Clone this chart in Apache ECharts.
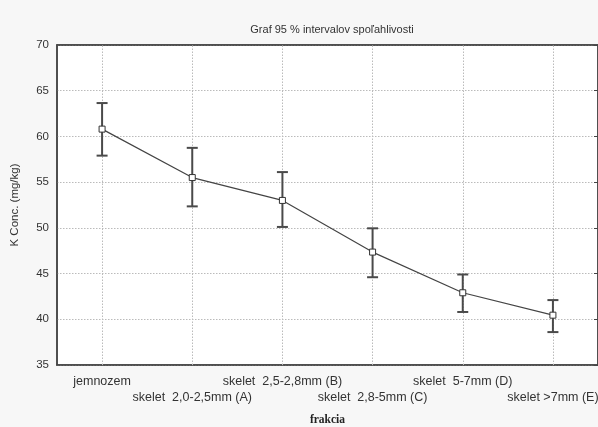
<!DOCTYPE html>
<html><head><meta charset="utf-8">
<script src="https://cdn.jsdelivr.net/npm/echarts@6/dist/echarts.min.js"></script>
<style>html,body{margin:0;padding:0;background:#f7f7f7}#c{width:598px;height:427px}</style>
</head><body><div id="c"></div>
<script>
const categories = ['jemnozem','skelet  2,0-2,5mm (A)','skelet  2,5-2,8mm (B)','skelet  2,8-5mm (C)','skelet  5-7mm (D)','skelet >7mm (E)'];
const means = [60.8, 55.5, 53.0, 47.35, 42.9, 40.45];
const upper = [63.65, 58.75, 56.1, 49.95, 44.9, 42.1];
const lower = [57.9, 52.35, 50.1, 44.6, 40.8, 38.6];
const yTicks = [35, 40, 45, 50, 55, 60, 65, 70];

const chart = echarts.init(document.getElementById('c'), null, {renderer:'canvas'});
const font = 'Liberation Sans, Arial, sans-serif';
const axisLine = {show: true, lineStyle: {color: '#444', width: 1.5}};
chart.setOption({
  backgroundColor: '#f7f7f7',
  animation: false,
  title: {text: 'Graf 95 % intervalov spoľahlivosti', left: 327, textAlign: 'center', top: 19,
    textStyle: {fontFamily: font, fontSize: 11, fontWeight: 'normal', color: '#333'}},
  grid: {left: 57, right: 0, top: 45, bottom: 62, containLabel: false, outerBoundsMode: 'none',
    show: true, backgroundColor: '#fff', borderColor: '#444', borderWidth: 1.5},
  xAxis: [{
    type: 'category', data: categories, boundaryGap: true,
    name: 'frakcia', nameLocation: 'middle', nameGap: 49,
    nameTextStyle: {fontFamily: 'Liberation Serif, serif', fontWeight: 'bold', fontSize: 11.5, color: '#222'},
    axisLine: axisLine,
    axisTick: {alignWithLabel: true, inside: true, length: 4, lineStyle: {color: '#444'}},
    axisLabel: {interval: 0, fontFamily: font, fontSize: 12.5, color: '#333', lineHeight: 15.5, margin: 9,
      hideOverlap: false, formatter: (v, i) => i % 2 ? '\n' + v : v},
    splitLine: {show: false}
  }, {
    type: 'category', data: categories, position: 'top', boundaryGap: true,
    axisLine: axisLine,
    axisTick: {alignWithLabel: true, inside: true, length: 4, lineStyle: {color: '#444'}},
    axisLabel: {show: false}
  }],
  yAxis: [{
    type: 'value', min: 35, max: 70, interval: 5,
    name: 'K Conc. (mg/kg)', nameLocation: 'middle', nameGap: 36,
    nameTextStyle: {fontFamily: font, fontSize: 11.5, color: '#333'},
    axisLine: axisLine,
    axisTick: {show: false},
    axisLabel: {fontFamily: font, fontSize: 11.5, color: '#333', margin: 8,
      formatter: v => yTicks.includes(v) ? String(v) : ''},
    splitLine: {lineStyle: {color: '#bbb', type: [1.5, 1.5], width: 1}}
  }, {
    type: 'value', min: 35, max: 70, interval: 5, position: 'right',
    axisLine: axisLine,
    axisTick: {show: true, inside: true, length: 4, lineStyle: {color: '#444'}},
    axisLabel: {show: false},
    splitLine: {show: false}
  }],
  series: [{
    type: 'line', data: [], silent: true, z: 1,
    markLine: {symbol: 'none', silent: true, z: 1, label: {show: false},
      lineStyle: {color: '#bbb', type: [1.5, 1.5], width: 1},
      data: categories.map(c => ({xAxis: c}))}
  }, {
    type: 'custom', z: 3,
    data: categories.map((c, i) => [i, lower[i], upper[i]]),
    renderItem: (params, api) => {
      const lo = api.coord([api.value(0), api.value(1)]);
      const hi = api.coord([api.value(0), api.value(2)]);
      const w = 5.5;
      const st = {stroke: '#4a4a4a', lineWidth: 2};
      return {type: 'group', children: [
        {type: 'line', shape: {x1: hi[0], y1: hi[1], x2: lo[0], y2: lo[1]}, style: st},
        {type: 'line', shape: {x1: hi[0]-w, y1: hi[1], x2: hi[0]+w, y2: hi[1]}, style: st},
        {type: 'line', shape: {x1: lo[0]-w, y1: lo[1], x2: lo[0]+w, y2: lo[1]}, style: st}
      ]};
    }
  }, {
    type: 'line', data: means, z: 4,
    symbol: 'rect', symbolSize: 6,
    lineStyle: {color: '#444', width: 1.2},
    itemStyle: {color: '#fff', borderColor: '#333', borderWidth: 1}
  }]
});
</script></body></html>
